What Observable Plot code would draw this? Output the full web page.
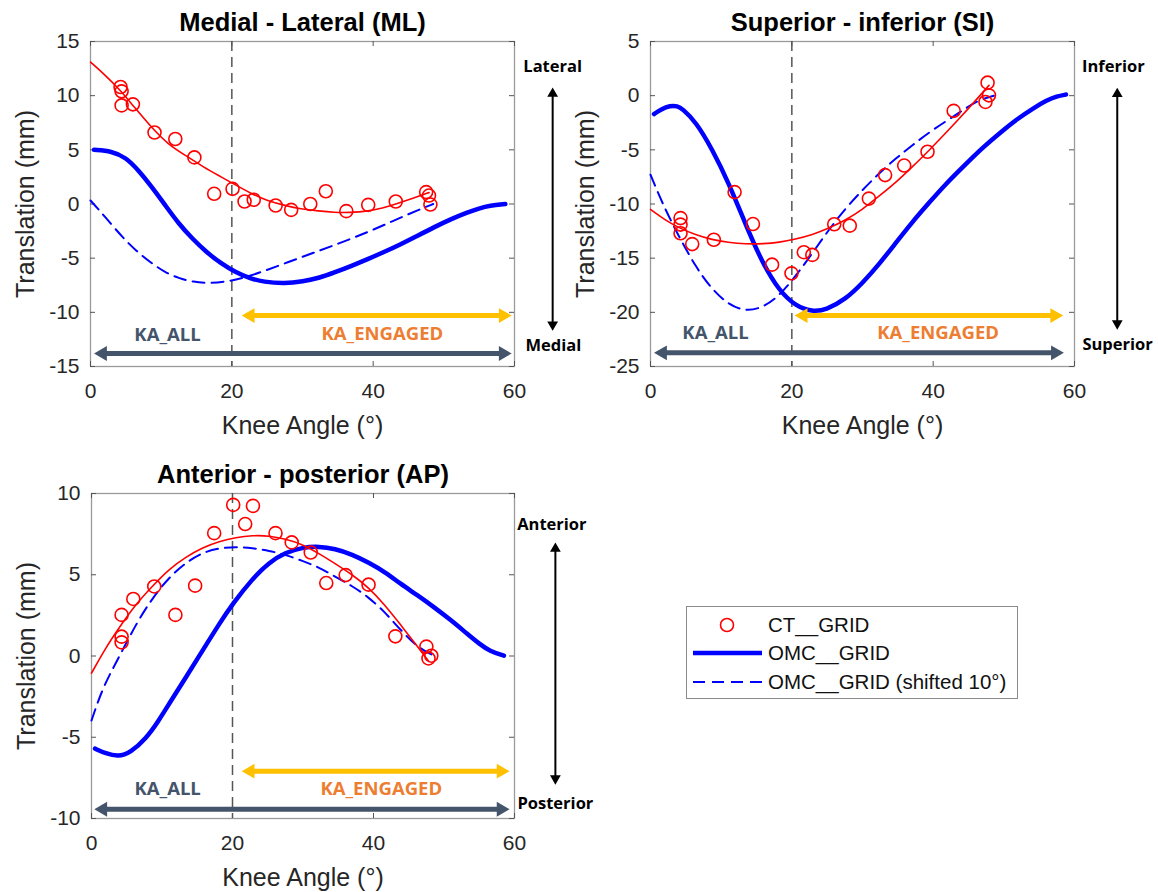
<!DOCTYPE html>
<html><head><meta charset="utf-8">
<script src="https://cdn.jsdelivr.net/npm/d3@7"></script>
<script src="https://cdn.jsdelivr.net/npm/@observablehq/plot@0.6"></script>
<style>
body{margin:0;background:#fff;}
#wrap{position:relative;width:1158px;height:892px;overflow:hidden;background:#fff;font-family:"Liberation Sans",Arial,sans-serif;}
.panel{position:absolute;}
</style></head><body><div id="wrap"></div>
<script>
// ---------------- data ----------------
const xTicks = [0, 20, 40, 60];
const mlYTicks = [-15, -10, -5, 0, 5, 10, 15];
const siYTicks = [-25, -20, -15, -10, -5, 0, 5];
const apYTicks = [-10, -5, 0, 5, 10];
const legendLabels = ["CT__GRID", "OMC__GRID", "OMC__GRID (shifted 10°)"];

// Medial - Lateral
const mlCtAngle = [4.25,4.4,4.4,6.0,9.06,12.0,14.7,17.5,20.1,21.8,23.1,26.2,28.4,31.1,33.3,36.2,39.3,43.2,47.5,47.9,48.1];
const mlCtTrans = [10.8,10.4,9.1,9.2,6.6,6.0,4.3,0.94,1.4,0.23,0.39,-0.14,-0.54,0.0,1.18,-0.66,-0.08,0.23,1.1,0.78,-0.05];
const mlFitAngle = [0,2,4,6,8.7,11,13.4,16,18.2,20,22.9,25,27.6,29.7,32.3,34.5,36.5,39.4,41.5,43.2,45.5,47.9];
const mlFitTrans = [13.1,11.95,10.65,9.1,7.0,5.5,4.5,3.4,2.6,1.95,0.9,0.3,-0.15,-0.45,-0.65,-0.78,-0.8,-0.66,-0.35,0.0,0.5,1.05];
const mlOmcAngle = [0.5,3,5,6.8,8.7,10.6,12.5,14.4,16.5,18.5,20.5,22.5,24.5,27.5,30,32.5,34.4,37,39.2,41.5,43.9,46.2,48.6,51,53.3,55,56.5,58.7];
const mlOmcTrans = [5.0,4.88,4.3,3.1,1.55,-0.14,-1.83,-3.2,-4.5,-5.5,-6.3,-6.85,-7.2,-7.35,-7.15,-6.8,-6.35,-5.7,-5.1,-4.45,-3.72,-2.95,-2.15,-1.4,-0.78,-0.4,-0.15,0.0];
const mlShiftAngle = [0,2.1,4.5,6.5,8.5,10.5,12.5,14.5,17,19.5,22,24.5,27,29.7,32,34.4,36.8,39.2,41.5,43.9,46.2,48.5];
const mlShiftTrans = [0.32,-1.2,-3.07,-4.35,-5.4,-6.3,-6.85,-7.2,-7.32,-7.15,-6.75,-6.2,-5.6,-4.95,-4.4,-3.83,-3.22,-2.6,-1.95,-1.25,-0.6,0.0];

// Superior - inferior
const siCtAngle = [4.25,4.25,4.25,5.9,8.96,11.9,14.5,17.2,19.95,21.7,22.9,26.0,28.2,30.9,33.2,35.9,39.2,42.9,47.7,47.9,47.4];
const siCtTrans = [-11.3,-11.9,-12.7,-13.7,-13.3,-8.9,-11.85,-15.6,-16.4,-14.45,-14.7,-11.87,-12.0,-9.5,-7.33,-6.45,-5.18,-1.4,1.2,0.03,-0.58];
const siFitAngle = [0,2,4,6.4,8.7,11,13.4,16,18.2,20.5,22.9,25.2,27.6,30,32.3,35,37,39.2,41.7,44,46,47.9];
const siFitTrans = [-10.5,-11.45,-12.2,-12.85,-13.3,-13.55,-13.7,-13.68,-13.55,-13.25,-12.85,-12.25,-11.5,-10.5,-9.3,-7.85,-6.6,-5.2,-3.5,-1.9,-0.45,0.95];
const siOmcAngle = [0.5,1.5,2.8,3.8,4.5,6.4,8.7,11.1,13.4,15.8,18.2,20.5,22.9,24.8,27.6,30,32.3,34.7,37,39.4,41.7,44.8,47,49.5,52,54.2,56,57.5,58.8];
const siOmcTrans = [-1.7,-1.25,-0.92,-0.95,-1.2,-2.4,-4.9,-8.1,-11.8,-15.4,-18.0,-19.4,-19.95,-19.8,-18.8,-17.3,-15.6,-13.6,-11.7,-9.9,-8.2,-6.2,-4.8,-3.4,-2.1,-1.15,-0.45,-0.05,0.1];
const siShiftAngle = [0,1.65,4,6.4,8.7,11.1,13.4,15.8,18.2,20.5,22.9,25.2,27.6,30,32.3,34.7,37,40,43.9,46.2,48.6];
const siShiftTrans = [-7.3,-9.9,-13.0,-15.8,-17.9,-19.3,-19.9,-19.6,-18.5,-16.7,-14.55,-12.4,-10.4,-8.7,-7.2,-5.8,-4.6,-3.1,-1.5,-0.45,0.0];

// Anterior - posterior
const apCtAngle = [4.27,4.27,4.27,5.93,8.9,11.9,14.7,17.4,20.1,21.8,22.9,26.1,28.4,31.1,33.3,36.05,39.3,43.1,47.5,47.8,48.2];
const apCtTrans = [2.53,1.19,0.84,3.51,4.28,2.53,4.33,7.56,9.3,8.12,9.24,7.56,6.99,6.37,4.49,4.98,4.39,1.21,0.58,-0.15,0.02];
const apFitAngle = [0,2,4,6.3,8.7,11,13.4,15.8,18.1,20.5,22.8,25.2,27.5,29.8,32.3,34.5,37,39.35,41.5,43.8,46.2,47.8];
const apFitTrans = [-1.06,0.5,1.8,3.2,4.33,5.35,6.1,6.68,7.05,7.3,7.42,7.4,7.2,6.9,6.3,5.7,5.0,4.2,3.2,1.95,0.6,-0.3];
const apOmcAngle = [0.5,2,3.8,5.5,7.7,9.5,11,13.4,15.75,18.1,20,22.8,25.2,27.5,29.9,32.3,34.5,37,39.3,41.7,43.8,46.2,48.6,51,53.3,55,56.5,58.5];
const apOmcTrans = [-5.7,-6.0,-6.2,-5.95,-5.1,-4.0,-2.95,-1.3,0.33,1.97,3.2,4.74,5.76,6.37,6.68,6.75,6.6,6.25,5.75,5.15,4.45,3.75,3.0,2.2,1.36,0.75,0.3,0.02];
const apShiftAngle = [0,1.6,3.9,6.3,8.7,11,13.4,15.75,18.1,20.5,22.8,25.2,27.5,29.9,32.3,34.5,37,39.2,41.5,43,45.3,47,48.6];
const apShiftTrans = [-3.97,-1.92,-0.08,1.97,3.6,4.84,5.76,6.37,6.64,6.72,6.64,6.48,6.23,5.86,5.45,4.9,4.3,3.65,2.75,2.0,0.94,0.35,0.02];

// ---------------- drawing ----------------
const RED = "#ff0000", BLUE = "#0000ff", SLATE = "#44546A", GOLD = "#FFC000", ORANGE = "#ED7D31", INK = "#262626";
const pts = (xs, ys) => xs.map((x, i) => ({x, y: ys[i]}));

function panel(cfg) {
  const {width, height, ml, mr, mt, mb, yDomain} = cfg;
  const W = width - ml - mr, H = height - mt - mb;
  const kx = W / 60, ky = H / (yDomain[1] - yDomain[0]);
  const hr = 5.5, hoff = 1.555 * hr;
  const vr = 4, voff = 1.555 * vr;
  const harrow = (t1, t2, y, color) => [
    Plot.link([0], {x1: () => t1 + 6 / kx, x2: () => t2 - 6 / kx, y1: () => y, y2: () => y, stroke: color, strokeWidth: 5}),
    Plot.dot([0], {x: () => t1, y: () => y, dx: hoff, symbol: "triangle", rotate: -90, r: hr, fill: color, stroke: null}),
    Plot.dot([0], {x: () => t2, y: () => y, dx: -hoff, symbol: "triangle", rotate: 90, r: hr, fill: color, stroke: null})
  ];
  const varrow = (x, t1, t2) => [
    Plot.link([0], {x1: () => x, x2: () => x, y1: () => t1 - 5 / ky, y2: () => t2 + 5 / ky, stroke: "#000", strokeWidth: 2}),
    Plot.dot([0], {x: () => x, y: () => t1, dy: voff, symbol: "triangle", rotate: 0, r: vr, fill: "#000", stroke: null}),
    Plot.dot([0], {x: () => x, y: () => t2, dy: -voff, symbol: "triangle", rotate: 180, r: vr, fill: "#000", stroke: null})
  ];
  const label = (x, y, t, opts) => Plot.text([t], {x: () => x, y: () => y, text: d => d, ...opts});
  const calibri = {fontFamily: "'Open Sans', Lato, sans-serif", fontWeight: "bold"};

  const p = Plot.plot({
    width, height, marginLeft: ml, marginRight: mr, marginTop: mt, marginBottom: mb,
    x: {domain: [0, 60]},
    y: {domain: yDomain},
    style: {fontFamily: "'Liberation Sans', Arial, sans-serif", fontSize: "21px", color: INK, background: "transparent", overflow: "visible"},
    marks: [
      Plot.frame({stroke: "#9a9a9a", strokeWidth: 1.3}),
      Plot.tickX(xTicks, {x: d => d, stroke: "#555", insetTop: H - 5}),
      Plot.tickX(xTicks, {x: d => d, stroke: "#555", insetBottom: H - 5}),
      Plot.tickY(cfg.yTicks, {y: d => d, stroke: "#555", insetRight: W - 5}),
      Plot.tickY(cfg.yTicks, {y: d => d, stroke: "#555", insetLeft: W - 5}),
      Plot.axisX({ticks: xTicks, tickSize: 0, tickPadding: 17, label: null, tickFormat: d => String(d)}),
      Plot.axisY({ticks: cfg.yTicks, tickSize: 0, tickPadding: 11, label: null, tickFormat: d => String(d)}),
      Plot.ruleX([20], {stroke: "#555", strokeWidth: 1.5, strokeDasharray: "10,6"}),
      Plot.line(pts(cfg.omc[0], cfg.omc[1]), {x: "x", y: "y", stroke: BLUE, strokeWidth: 4.5, curve: "basis"}),
      Plot.line(pts(cfg.shift[0], cfg.shift[1]), {x: "x", y: "y", stroke: BLUE, strokeWidth: 2, strokeDasharray: "12,7", curve: "basis"}),
      Plot.line(pts(cfg.fit[0], cfg.fit[1]), {x: "x", y: "y", stroke: RED, strokeWidth: 1.6, curve: "basis"}),
      Plot.dot(pts(cfg.ct[0], cfg.ct[1]), {x: "x", y: "y", r: 6.5, stroke: RED, strokeWidth: 1.6, fill: "none"}),
      ...harrow(cfg.engTips[0], cfg.engTips[1], cfg.engY, GOLD),
      ...harrow(cfg.allTips[0], cfg.allTips[1], cfg.allY, SLATE),
      label(cfg.kaAll[0], cfg.kaAll[1], "KA_ALL", {...calibri, fontSize: 18.5, fill: SLATE}),
      label(cfg.kaEng[0], cfg.kaEng[1], "KA_ENGAGED", {...calibri, fontSize: 18.5, fill: ORANGE}),
      ...varrow(cfg.side.arrowX, cfg.side.arrowTop, cfg.side.arrowBot),
      label(cfg.side.topX, cfg.side.topY, cfg.side.top, {...calibri, fontSize: 16.5, fill: "#000"}),
      label(cfg.side.botX, cfg.side.botY, cfg.side.bot, {...calibri, fontSize: 16.5, fill: "#000"}),
      Plot.text([cfg.title], {frameAnchor: "top", dy: -19, lineAnchor: "middle", textAnchor: "middle", fontSize: 25.5, fontWeight: "bold", fill: "#000"}),
      Plot.text(["Knee Angle (°)"], {frameAnchor: "bottom", dy: 59, lineAnchor: "middle", textAnchor: "middle", fontSize: 25, fill: INK}),
      Plot.text(["Translation (mm)"], {frameAnchor: "left", dx: -64.5, rotate: -90, lineAnchor: "middle", textAnchor: "middle", fontSize: 25, fill: INK})
    ]
  });
  p.classList.add("panel");
  p.style.left = cfg.left + "px";
  p.style.top = cfg.top + "px";
  return p;
}

const wrap = document.getElementById("wrap");

wrap.appendChild(panel({
  left: 0, top: 0, width: 590, height: 445, ml: 90, mr: 76, mt: 41, mb: 79,
  yDomain: [-15, 15], yTicks: mlYTicks, title: "Medial - Lateral (ML)",
  ct: [mlCtAngle, mlCtTrans], fit: [mlFitAngle, mlFitTrans], omc: [mlOmcAngle, mlOmcTrans], shift: [mlShiftAngle, mlShiftTrans],
  allY: -13.8, allTips: [0.5, 59.6], engY: -10.3, engTips: [21.4, 59.6],
  kaAll: [10.9, -12.1], kaEng: [41.3, -12.0],
  side: {top: "Lateral", topX: 65.4, topY: 12.7, bot: "Medial", botX: 65.5, botY: -13.06, arrowX: 65.4, arrowTop: 10.75, arrowBot: -11.7}
}));

wrap.appendChild(panel({
  left: 560, top: 0, width: 598, height: 445, ml: 90, mr: 84, mt: 41, mb: 79,
  yDomain: [-25, 5], yTicks: siYTicks, title: "Superior - inferior (SI)",
  ct: [siCtAngle, siCtTrans], fit: [siFitAngle, siFitTrans], omc: [siOmcAngle, siOmcTrans], shift: [siShiftAngle, siShiftTrans],
  allY: -23.74, allTips: [0.5, 58.5], engY: -20.3, engTips: [20.4, 58.4],
  kaAll: [9.2, -21.9], kaEng: [40.7, -21.9],
  side: {top: "Inferior", topX: 65.5, topY: 2.7, bot: "Superior", botX: 66.1, botY: -23.0, arrowX: 66.05, arrowTop: 0.74, arrowBot: -21.6}
}));

wrap.appendChild(panel({
  left: 0, top: 452, width: 590, height: 440, ml: 91, mr: 76, mt: 41, mb: 74,
  yDomain: [-10, 10], yTicks: apYTicks, title: "Anterior - posterior (AP)",
  ct: [apCtAngle, apCtTrans], fit: [apFitAngle, apFitTrans], omc: [apOmcAngle, apOmcTrans], shift: [apShiftAngle, apShiftTrans],
  allY: -9.43, allTips: [0.4, 59.3], engY: -7.09, engTips: [21.3, 59.3],
  kaAll: [10.8, -8.2], kaEng: [41.1, -8.2],
  side: {top: "Anterior", topX: 65.3, topY: 8.08, bot: "Posterior", botX: 65.8, botY: -9.09, arrowX: 65.8, arrowTop: 6.99, arrowBot: -7.92}
}));

// ---------------- legend ----------------
const leg = d3.select(wrap).append("svg").attr("class", "panel")
  .style("left", "686px").style("top", "606px").attr("width", 332).attr("height", 93);
leg.append("rect").attr("x", 0.5).attr("y", 0.5).attr("width", 331).attr("height", 92)
  .attr("fill", "#fff").attr("stroke", "#8a8a8a").attr("stroke-width", 1);
const rows = [19, 47, 76];
leg.append("circle").attr("cx", 41).attr("cy", rows[0]).attr("r", 6.5).attr("fill", "none").attr("stroke", RED).attr("stroke-width", 1.6);
leg.append("line").attr("x1", 7).attr("x2", 76).attr("y1", rows[1]).attr("y2", rows[1]).attr("stroke", BLUE).attr("stroke-width", 4.5);
leg.append("line").attr("x1", 7).attr("x2", 76).attr("y1", rows[2]).attr("y2", rows[2]).attr("stroke", BLUE).attr("stroke-width", 2).attr("stroke-dasharray", "12,7");
legendLabels.forEach((t, i) => {
  leg.append("text").attr("x", 82).attr("y", rows[i]).attr("dy", "0.35em")
    .attr("font-family", "'Liberation Sans', Arial, sans-serif").attr("font-size", 20.5).attr("fill", "#111").text(t);
});
</script>
</body></html>
